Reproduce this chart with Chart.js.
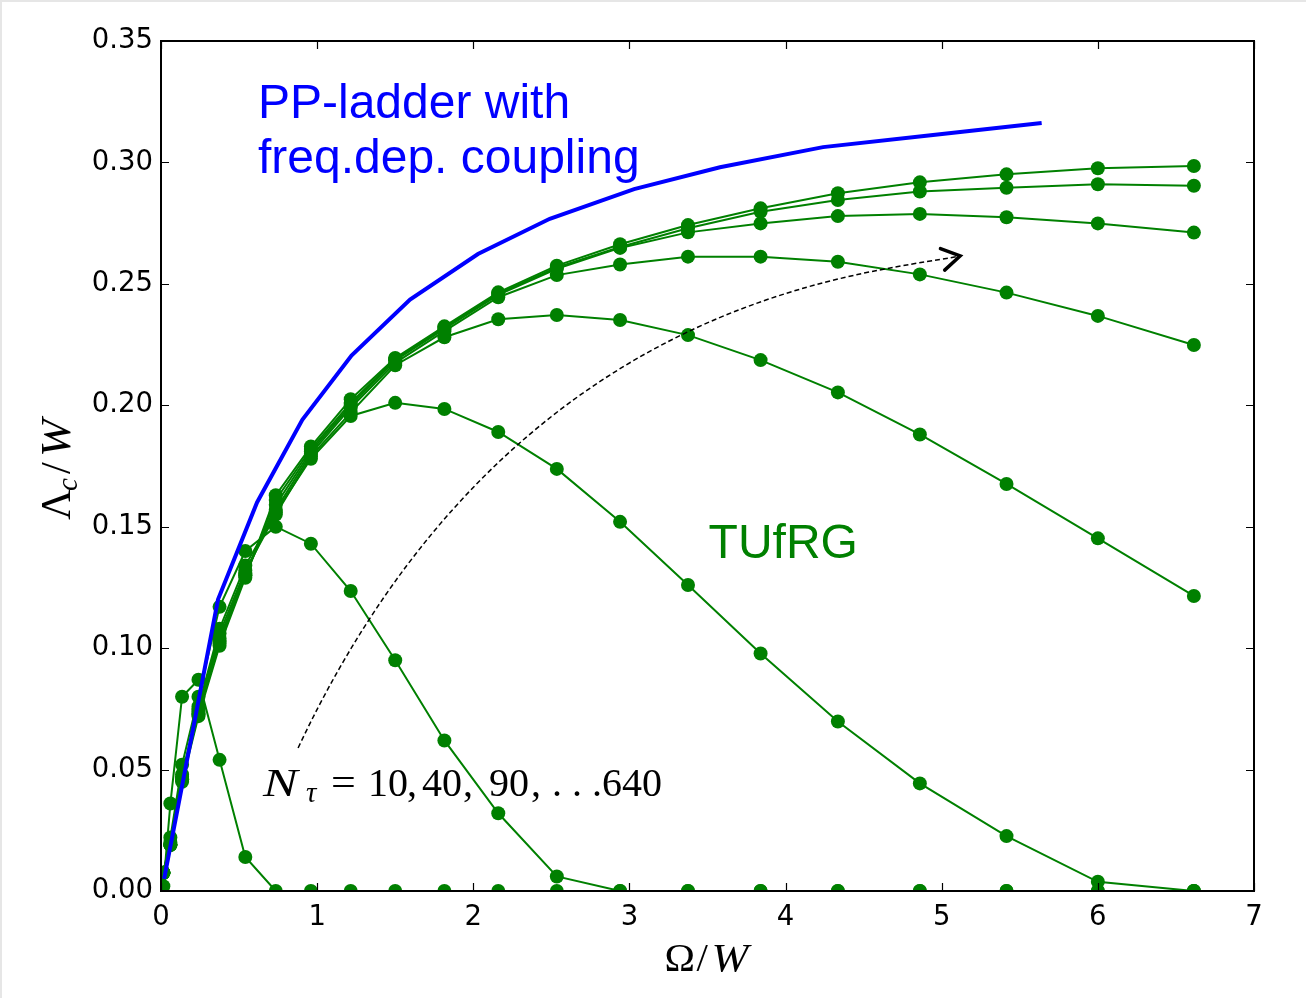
<!DOCTYPE html>
<html>
<head>
<meta charset="utf-8">
<script src="https://cdn.jsdelivr.net/npm/chart.js@4.4.0/dist/chart.umd.min.js"></script>
<style>
  html, body { margin: 0; padding: 0; background: #fff; overflow: hidden; }
  #wrap { width: 1306px; height: 998px; position: relative; }
  canvas { display: block; }
</style>
</head>
<body>
<div id="wrap"><canvas id="chart" width="1306" height="998"></canvas></div>
<script>
// Bosonic frequency grid Omega/W shared by all TUfRG runs
const omegaGrid = [0.015, 0.06, 0.135, 0.24, 0.375, 0.54, 0.735, 0.96, 1.215, 1.5, 1.815,
                   2.16, 2.535, 2.94, 3.375, 3.84, 4.335, 4.86, 5.415, 6.0, 6.615];

// Critical scale Lambda_c/W for each number of imaginary-time points N_tau
const lambdaN10  = [0.002, 0.036, 0.080, 0.087, 0.054, 0.014, 0, 0, 0, 0, 0,
                    0, 0, 0, 0, 0, 0, 0, 0, 0, 0];
const lambdaN40  = [0.0075, 0.022, 0.052, 0.080, 0.117, 0.140, 0.150, 0.143, 0.1235, 0.095, 0.062,
                    0.032, 0.006, 0, 0, 0, 0, 0, 0, 0, 0];
const lambdaN90  = [0.0075, 0.020, 0.048, 0.076, 0.108, 0.134, 0.156, 0.178, 0.1956, 0.201, 0.1985,
                    0.189, 0.1738, 0.152, 0.126, 0.0978, 0.0698, 0.0443, 0.0226, 0.0038, 0];
const lambdaN160 = [0.0075, 0.019, 0.047, 0.075, 0.106, 0.132, 0.155, 0.179, 0.197, 0.2165, 0.228,
                    0.2354, 0.2372, 0.2351, 0.2289, 0.2186, 0.2053, 0.188, 0.1676, 0.1452, 0.1215];
const lambdaN250 = [0.0075, 0.019, 0.046, 0.074, 0.104, 0.131, 0.157, 0.180, 0.199, 0.2175, 0.2305,
                    0.2445, 0.2536, 0.2580, 0.2612, 0.2612, 0.2591, 0.2539, 0.2464, 0.2368, 0.2248];
const lambdaN360 = [0.0075, 0.019, 0.046, 0.073, 0.103, 0.130, 0.159, 0.181, 0.200, 0.2185, 0.2315,
                    0.2455, 0.2562, 0.2648, 0.2712, 0.2749, 0.2779, 0.2788, 0.2774, 0.2749, 0.2711];
const lambdaN490 = [0.0075, 0.019, 0.046, 0.073, 0.102, 0.130, 0.161, 0.182, 0.201, 0.219, 0.232,
                    0.246, 0.2568, 0.2652, 0.2729, 0.2797, 0.2845, 0.2880, 0.2896, 0.2910, 0.2904];
const lambdaN640 = [0.0075, 0.019, 0.045, 0.072, 0.101, 0.129, 0.163, 0.183, 0.2025, 0.2195, 0.2325,
                    0.2465, 0.2575, 0.2663, 0.2742, 0.2811, 0.2873, 0.2918, 0.2951, 0.2976, 0.2985];

// Particle-particle ladder with frequency-dependent coupling
const ladderOmega  = [0.02, 0.365, 0.615, 0.905, 1.22, 1.595, 2.03, 2.49, 3.03, 3.58, 4.24, 4.93, 5.64];
const ladderLambda = [0.005, 0.120, 0.160, 0.194, 0.2205, 0.2435, 0.2623, 0.2768, 0.289, 0.2980, 0.3063, 0.3112, 0.3162];

// Axis ticks
const xTickValues = [0, 1, 2, 3, 4, 5, 6, 7];
const xTickLabels = ['0', '1', '2', '3', '4', '5', '6', '7'];
const yTickValues = [0, 0.05, 0.10, 0.15, 0.20, 0.25, 0.30, 0.35];
const yTickLabels = ['0.00', '0.05', '0.10', '0.15', '0.20', '0.25', '0.30', '0.35'];

const GREEN = '#008000';
const BLUE = '#0000ff';

const tufrgRuns = [lambdaN10, lambdaN40, lambdaN90, lambdaN160, lambdaN250, lambdaN360, lambdaN490, lambdaN640];
const pairs = (xs, ys) => xs.map((x, i) => ({ x: x, y: ys[i] }));

const datasets = [{
  label: 'PP-ladder',
  data: pairs(ladderOmega, ladderLambda),
  showLine: true,
  borderColor: BLUE,
  borderWidth: 4,
  pointRadius: 0,
  tension: 0,
  order: 0,
  clip: 0
}];
tufrgRuns.forEach((run, k) => {
  datasets.push({
    label: 'TUfRG ' + k,
    data: pairs(omegaGrid, run),
    showLine: true,
    borderColor: GREEN,
    borderWidth: 2,
    backgroundColor: GREEN,
    pointBackgroundColor: GREEN,
    pointBorderWidth: 0,
    pointRadius: 7,
    tension: 0,
    order: 10 - k,
    clip: 0
  });
});

// Frame with inward ticks on all four sides
const framePlugin = {
  id: 'frame',
  afterDatasetsDraw(chart) {
    const { ctx, chartArea: a, scales } = chart;
    ctx.save();
    ctx.strokeStyle = '#000';
    ctx.lineWidth = 1.2;
    ctx.beginPath();
    xTickValues.forEach(v => {
      const px = Math.round(scales.x.getPixelForValue(v)) + 0.5;
      ctx.moveTo(px, a.bottom); ctx.lineTo(px, a.bottom - 8);
      ctx.moveTo(px, a.top); ctx.lineTo(px, a.top + 8);
    });
    yTickValues.forEach(v => {
      const py = Math.round(scales.y.getPixelForValue(v)) + 0.5;
      ctx.moveTo(a.left, py); ctx.lineTo(a.left + 8, py);
      ctx.moveTo(a.right, py); ctx.lineTo(a.right - 8, py);
    });
    ctx.stroke();
    ctx.lineWidth = 2;
    ctx.strokeRect(a.left, a.top, a.right - a.left, a.bottom - a.top);
    ctx.restore();
  }
};

// Draw a run of text pieces with individual fonts, offsets and widths
function drawPieces(ctx, pieces, x0, y0) {
  pieces.forEach(p => {
    ctx.save();
    ctx.font = p.font;
    ctx.translate(x0 + p.dx, y0 + (p.dy || 0));
    if (p.sx) ctx.scale(p.sx, 1);
    ctx.fillText(p.t, 0, 0);
    ctx.restore();
  });
}

const SERIF = '"Liberation Serif", "DejaVu Serif", serif';

const annotationPlugin = {
  id: 'annotations',
  afterDatasetsDraw(chart) {
    const { ctx, scales } = chart;
    const X = v => scales.x.getPixelForValue(v);
    const Y = v => scales.y.getPixelForValue(v);
    ctx.save();

    // Dashed curved arrow indicating growing N_tau
    const p0 = { x: X(0.878), y: Y(0.0589) };
    const c1 = { x: X(2.242), y: Y(0.2452) };
    const c2 = { x: X(4.491), y: Y(0.2536) };
    const p3 = { x: X(5.118), y: Y(0.2615) };
    ctx.strokeStyle = '#000';
    ctx.lineWidth = 1.5;
    ctx.setLineDash([5, 3]);
    ctx.beginPath();
    ctx.moveTo(p0.x, p0.y);
    ctx.bezierCurveTo(c1.x, c1.y, c2.x, c2.y, p3.x, p3.y);
    ctx.stroke();
    ctx.setLineDash([]);
    // open arrow head
    const ang = Math.atan2(p3.y - c2.y, p3.x - c2.x);
    const hl = 21, spread = 0.55;
    ctx.lineWidth = 3.5;
    ctx.lineCap = 'round';
    ctx.beginPath();
    ctx.moveTo(p3.x - hl * Math.cos(ang - spread), p3.y - hl * Math.sin(ang - spread));
    ctx.lineTo(p3.x, p3.y);
    ctx.lineTo(p3.x - hl * Math.cos(ang + spread), p3.y - hl * Math.sin(ang + spread));
    ctx.stroke();

    // Method labels
    ctx.textBaseline = 'alphabetic';
    ctx.textAlign = 'left';
    ctx.fillStyle = BLUE;
    ctx.font = '48px "Liberation Sans", Arial, sans-serif';
    ctx.fillText('PP-ladder with', X(0.621), Y(0.3183));
    ctx.fillText('freq.dep. coupling', X(0.621), Y(0.2958));
    ctx.fillStyle = GREEN;
    ctx.fillText('TUfRG', X(3.507), Y(0.1371));

    // N_tau = 10, 40, 90, ... 640
    ctx.fillStyle = '#000';
    const big = '40px ' + SERIF;
    const bigIt = 'italic 40px ' + SERIF;
    const sub = 'italic 29px ' + SERIF;
    drawPieces(ctx, [
      { t: 'N', font: bigIt, dx: -2, sx: 1.3 },
      { t: '\u03c4', font: sub, dx: 41, dy: 6 },
      { t: '=', font: big, dx: 66, sx: 1.1 },
      { t: '10', font: big, dx: 103 },
      { t: ',', font: big, dx: 142 },
      { t: '40', font: big, dx: 157 },
      { t: ',', font: big, dx: 198 },
      { t: '90', font: big, dx: 224 },
      { t: ',', font: big, dx: 266 },
      { t: '.', font: big, dx: 287 },
      { t: '.', font: big, dx: 307 },
      { t: '.', font: big, dx: 327 },
      { t: '640', font: big, dx: 337 }
    ], X(0.666), Y(0.0391));

    ctx.restore();
  },
  afterDraw(chart) {
    const { ctx, chartArea: a } = chart;
    ctx.save();
    ctx.fillStyle = '#000';
    ctx.textBaseline = 'alphabetic';
    ctx.textAlign = 'left';
    // x axis label  Omega/W
    const cx = (a.left + a.right) / 2;
    drawPieces(ctx, [
      { t: '\u03a9', font: '41px ' + SERIF, dx: -43 },
      { t: '/', font: '41px ' + SERIF, dx: -11 },
      { t: 'W', font: 'italic 41px ' + SERIF, dx: 4, sx: 1.08 }
    ], cx, 971);
    // y axis label  Lambda_c/W
    ctx.translate(70, (a.top + a.bottom) / 2);
    ctx.rotate(-Math.PI / 2);
    drawPieces(ctx, [
      { t: '\u039b', font: '42px ' + SERIF, dx: -54 },
      { t: 'c', font: 'italic 29px ' + SERIF, dx: -25, dy: 7 },
      { t: '/', font: '42px ' + SERIF, dx: -8 },
      { t: 'W', font: 'italic 42px ' + SERIF, dx: 9, sx: 1.08 }
    ], 0, 0);
    ctx.restore();
  },
  beforeDraw(chart) {
    const { ctx, width } = chart;
    ctx.save();
    ctx.fillStyle = '#fff';
    ctx.fillRect(0, 0, width, chart.height);
    ctx.fillStyle = '#e6e6e6';
    ctx.fillRect(0, 0, width, 2);
    ctx.fillRect(0, 0, 2, chart.height);
    ctx.restore();
  }
};

const tickFont = { family: '"DejaVu Sans", sans-serif', size: 27.5 };

new Chart(document.getElementById('chart'), {
  type: 'scatter',
  data: { datasets },
  options: {
    responsive: false,
    devicePixelRatio: 1,
    animation: false,
    events: [],
    layout: { padding: { top: 41, right: 52, left: 0, bottom: 0 } },
    plugins: { legend: { display: false }, tooltip: { enabled: false } },
    scales: {
      x: {
        type: 'linear',
        min: 0, max: 7,
        afterBuildTicks: s => { s.ticks = xTickValues.map(v => ({ value: v })); },
        afterFit: s => { s.height = 107; },
        grid: { display: false, drawTicks: false },
        border: { display: false },
        ticks: {
          font: tickFont, color: '#000', padding: 10, maxRotation: 0, autoSkip: false,
          callback: (v, i) => xTickLabels[i]
        }
      },
      y: {
        type: 'linear',
        min: 0, max: 0.35,
        afterBuildTicks: s => { s.ticks = yTickValues.map(v => ({ value: v })); },
        afterFit: s => { s.width = 161; },
        grid: { display: false, drawTicks: false },
        border: { display: false },
        ticks: {
          font: tickFont, color: '#000', padding: 8, autoSkip: false,
          callback: (v, i) => yTickLabels[i]
        }
      }
    }
  },
  plugins: [framePlugin, annotationPlugin]
});
</script>
</body>
</html>
